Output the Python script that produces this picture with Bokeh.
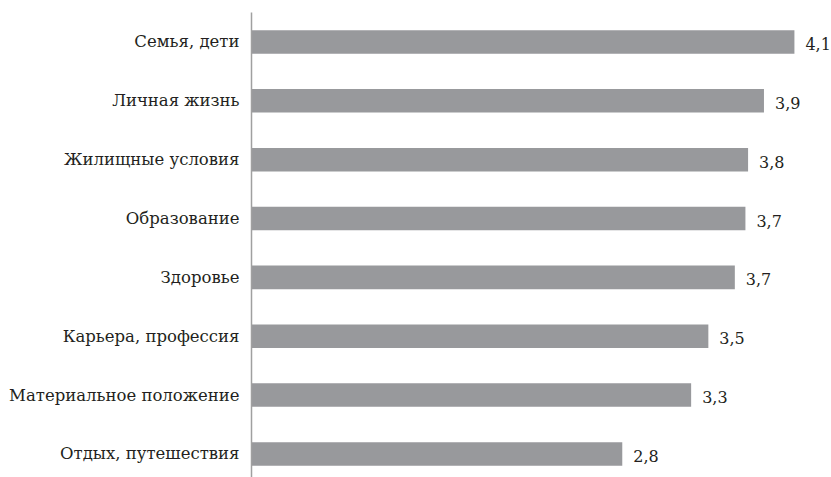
from bokeh.plotting import figure
from bokeh.models import Range1d, FixedTicker, ColumnDataSource
from bokeh.core.properties import value
from bokeh.embed import file_html
from bokeh.resources import INLINE

categories = ["Семья, дети", "Личная жизнь", "Жилищные условия", "Образование",
              "Здоровье", "Карьера, профессия", "Материальное положение", "Отдых, путешествия"]
values = [4.10, 3.87, 3.75, 3.73, 3.65, 3.45, 3.32, 2.80]
value_labels = ["4,1", "3,9", "3,8", "3,7", "3,7", "3,5", "3,3", "2,8"]

FONT = "DejaVu Serif"
TEXT_COLOR = "#231f20"
BAR_COLOR = "#98999c"

idx = list(range(len(categories)))
src = ColumnDataSource(dict(y=idx, v=values, lab=value_labels))

p = figure(width=831, height=477, output_backend="svg", toolbar_location=None,
           x_range=Range1d(0, 4.38), y_range=Range1d(7.40, -0.5),
           x_axis_location=None, min_border_left=251, min_border_right=0,
           min_border_top=12, min_border_bottom=0)
p.outline_line_color = None
p.xgrid.visible = False
p.ygrid.visible = False
p.background_fill_color = "white"
p.border_fill_color = "white"

p.hbar(y="y", left=0, right="v", height=0.4, source=src,
       fill_color=BAR_COLOR, line_color=None)
p.text(x="v", y="y", text="lab", source=src, x_offset=11, y_offset=2,
       text_baseline="middle", text_align="left",
       text_font=value(FONT), text_font_size="16px", text_color=TEXT_COLOR)

ax = p.yaxis[0]
ax.ticker = FixedTicker(ticks=idx)
ax.major_label_overrides = {i: c for i, c in zip(idx, categories)}
ax.major_tick_line_color = None
ax.minor_tick_line_color = None
ax.axis_line_color = "#a0a0a0"
ax.axis_line_width = 1.5
ax.major_label_text_font = FONT
ax.major_label_text_font_size = "16.5px"
ax.major_label_text_color = TEXT_COLOR
ax.major_label_standoff = 6

open("out.html", "w").write(file_html(p, INLINE))
